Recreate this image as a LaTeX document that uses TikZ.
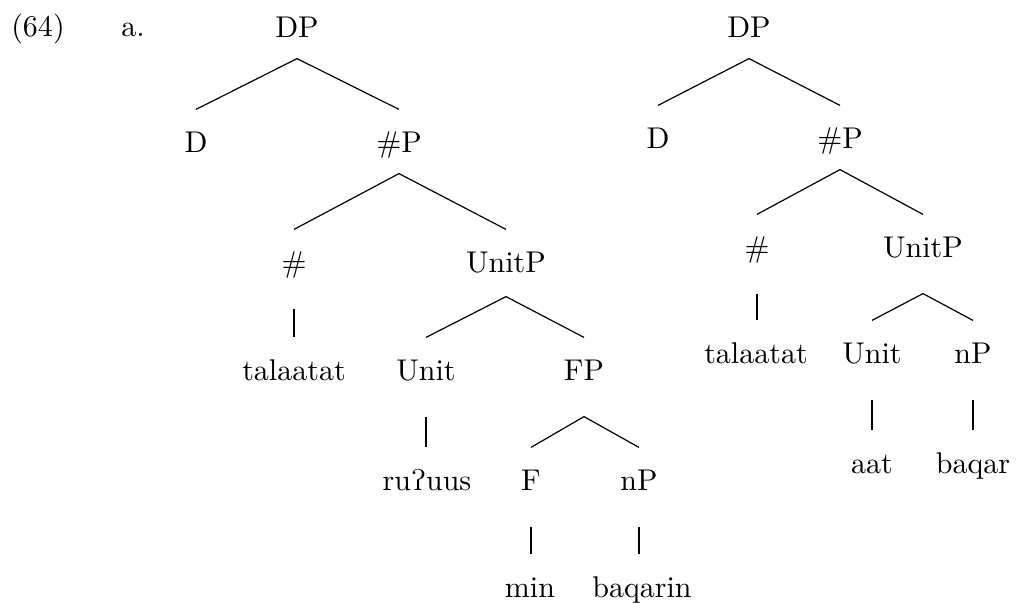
\documentclass[tikz,border=0pt]{standalone}
\usepackage{tipa}
\usepackage{tikz}
\tikzset{cat/.style={anchor=base, inner xsep=1pt, inner ysep=7pt, text height=7pt, text depth=0pt}, lowtop/.style={shorten <=5pt}}

\begin{document}
\begin{tikzpicture}[x=0.3333pt, y=-0.3333pt]
                 \useasboundingbox (0,0) rectangle (1016,603);
                 \node[cat] (ex) at (38,36) {(64)};
                 \node[cat] (exa) at (133,36) {a.};

                 \node[cat] (DPa) at (297,37) {DP};
                 \node[cat] (Da) at (196,152) {D};
                 \node[cat] (NumPa) at (399,152) {\#P};
                 \node[cat] (Numa) at (294,272) {\#};
                 \node[cat] (UnitPa) at (506,272) {UnitP};
                 \node[cat] (tala) at (294,380) {talaatat};
                 \node[cat] (Unita) at (426,380) {Unit};
                 \node[cat] (FPa) at (584,380) {FP};
                 \node[cat] (ruus) at (427,490) {ru\textglotstop uus};
                 \node[cat] (Fa) at (531,490) {F};
                 \node[cat] (nPa) at (639,490) {nP};
                 \node[cat] (min) at (530,597) {min};
                 \node[cat] (baqarin) at (642,597) {baqarin};

                 \draw(DPa.south)--(Da.north);
                 \draw(DPa.south)--(NumPa.north);
                 \draw(NumPa.south)--(Numa.north);
                 \draw(NumPa.south)--(UnitPa.north);
                 \draw[lowtop](Numa.south)--(Numa.south |- tala.north);
                 \draw([yshift=-1pt]UnitPa.south)--(Unita.north);
                 \draw([yshift=-1pt]UnitPa.south)--(FPa.north);
                 \draw[lowtop](Unita.south)--(Unita.south |- ruus.north);
                 \draw([yshift=-5pt]FPa.south)--(Fa.north);
                 \draw([yshift=-5pt]FPa.south)--(nPa.north);
                 \draw[lowtop](Fa.south)--(Fa.south |- min.north);
                 \draw[lowtop](nPa.south)--(nPa.south |- baqarin.north);

                 \node[cat] (DPb) at (749,37) {DP};
                 \node[cat] (Db) at (658,148) {D};
                 \node[cat] (NumPb) at (840,148) {\#P};
                 \node[cat] (Numb) at (757,257) {\#};
                 \node[cat] (UnitPb) at (923,257) {UnitP};
                 \node[cat] (talb) at (756,363) {talaatat};
                 \node[cat] (Unitb) at (872,363) {Unit};
                 \node[cat] (nPb) at (973,363) {nP};
                 \node[cat] (aat) at (872,473) {aat};
                 \node[cat] (baqar) at (973,473) {baqar};

                 \draw(DPb.south)--(Db.north);
                 \draw(DPb.south)--(NumPb.north);
                 \draw(NumPb.south)--(Numb.north);
                 \draw(NumPb.south)--(UnitPb.north);
                 \draw[lowtop](Numb.south)--(Numb.south |- talb.north);
                 \draw([yshift=-5pt]UnitPb.south)--(Unitb.north);
                 \draw([yshift=-5pt]UnitPb.south)--(nPb.north);
                 \draw[lowtop](Unitb.south)--(Unitb.south |- aat.north);
                 \draw[lowtop](nPb.south)--(nPb.south |- baqar.north);
             \end{tikzpicture}
\end{document}
